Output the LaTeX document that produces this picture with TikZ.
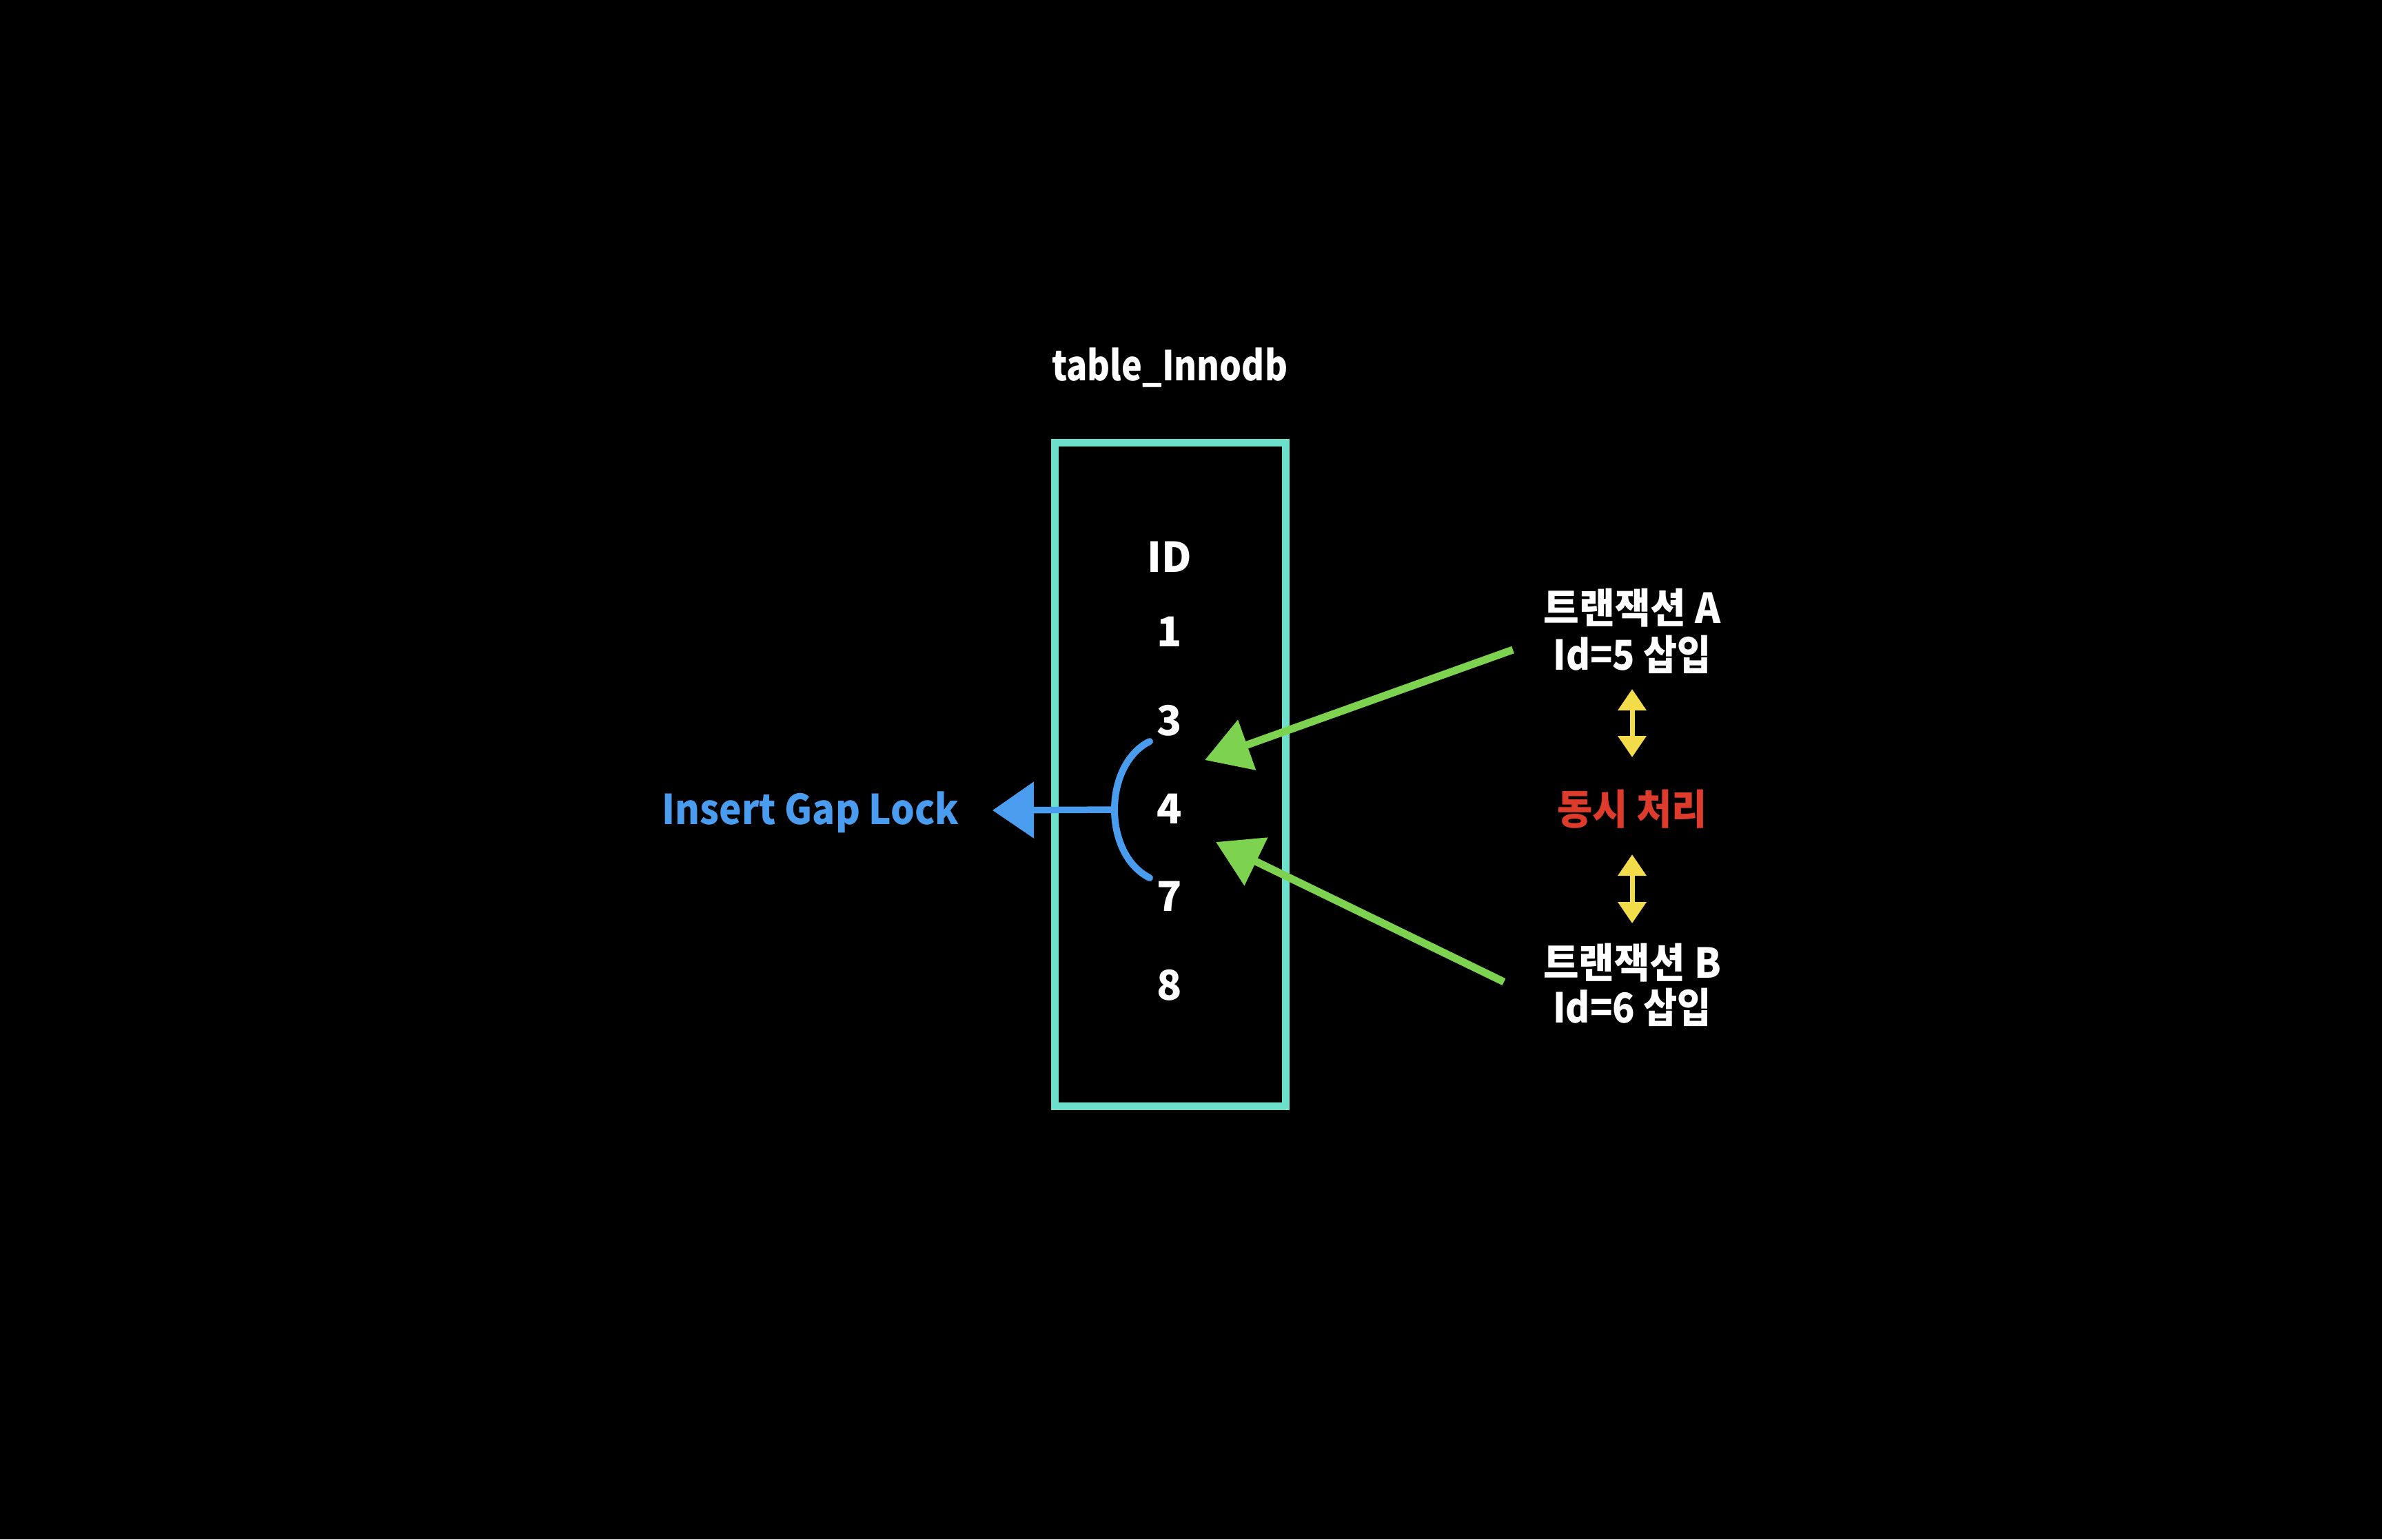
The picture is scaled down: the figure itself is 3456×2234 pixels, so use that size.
\documentclass[tikz,border=0pt]{standalone}
\usepackage{fontspec}
\usepackage{graphicx}
\usetikzlibrary{arrows.meta}
\newfontfamily\kr{Noto Sans CJK KR}
\newcommand\sx[2]{\resizebox{#1mm}{\height}{#2}}
\definecolor{tealc}{HTML}{6DE0CC}
\definecolor{bluec}{HTML}{4A9CEE}
\definecolor{greenc}{HTML}{7DD24F}
\definecolor{yellowc}{HTML}{F2DC4A}
\definecolor{redc}{HTML}{DD3B2B}
\begin{document}
\begin{tikzpicture}[x=0.1mm,y=-0.1mm,
  lbl/.style={text=white,font=\kr\bfseries\fontsize{17}{20}\selectfont,inner sep=0pt},
  tablebox/.style={draw=tealc,line width=1.1mm,minimum width=33.5mm,minimum height=96.3mm,inner sep=0pt},
  bluearrow/.style={draw=bluec,line width=0.95mm,-{Triangle[length=6mm,width=8mm]}},
  bluearc/.style={draw=bluec,line width=1mm,line cap=round},
  greenarrow/.style={draw=greenc,line width=1.1mm,-{Triangle[length=6.5mm,width=7.5mm]}},
  yellowarrow/.style={draw=yellowc,line width=0.7mm,{Triangle[length=3.1mm,width=4mm]}-{Triangle[length=3.1mm,width=4mm]}}]
\fill[black] (0,0) rectangle (3456,2234);
\useasboundingbox (0,0) rectangle (3456,2234);

% table
\node[tablebox] (tbl) at (1697.5,1123.5) {};
\node[lbl] (title) at (1697,533) {\sx{34.2}{table\_Innodb}};
\node[lbl] (hid) at (1697,808) {ID};
\node[lbl] (r1) at (1697,917) {1};
\node[lbl] (r3) at (1697,1046) {3};
\node[lbl] (r4) at (1697,1174) {4};
\node[lbl] (r7) at (1697,1301) {7};
\node[lbl] (r8) at (1697,1430) {8};

% gap lock
\coordinate (arcTop) at (1668,1076);
\coordinate (arcMid) at (1617,1175);
\coordinate (arcBot) at (1668,1274);
\draw[bluearc] (arcTop) .. controls (1600,1110) and (1600,1240) .. (arcBot);
\node[lbl,text=bluec] (gap) at (1176,1179) {\sx{43.1}{Insert Gap Lock}};
\coordinate (blueTip) at (1440,1176);
\draw[bluearrow] (arcMid) -- (blueTip);

% transactions
\node[lbl] (tA1) at (2368,882) {\sx{25.7}{트랜잭션 A}};
\node[lbl] (tA2) at (2368,950) {\sx{22.9}{Id=5 삽입}};
\node[lbl,text=redc] (conc) at (2368,1174) {\sx{21.8}{동시 처리}};
\node[lbl] (tB1) at (2368,1397) {\sx{25.8}{트랜잭션 B}};
\node[lbl] (tB2) at (2368,1462) {\sx{23.0}{Id=6 삽입}};

\coordinate (yA1) at (2368,1000);
\coordinate (yA2) at (2368,1099);
\coordinate (yB1) at (2368,1240);
\coordinate (yB2) at (2368,1340);
\draw[yellowarrow] (yA1) -- (yA2);
\draw[yellowarrow] (yB1) -- (yB2);

\coordinate (gAt) at (2195,943);
\coordinate (gAh) at (1748,1103);
\coordinate (gBt) at (2182,1425);
\coordinate (gBh) at (1764,1222);
\draw[greenarrow] (gAt) -- (gAh);
\draw[greenarrow] (gBt) -- (gBh);
\end{tikzpicture}
\end{document}
